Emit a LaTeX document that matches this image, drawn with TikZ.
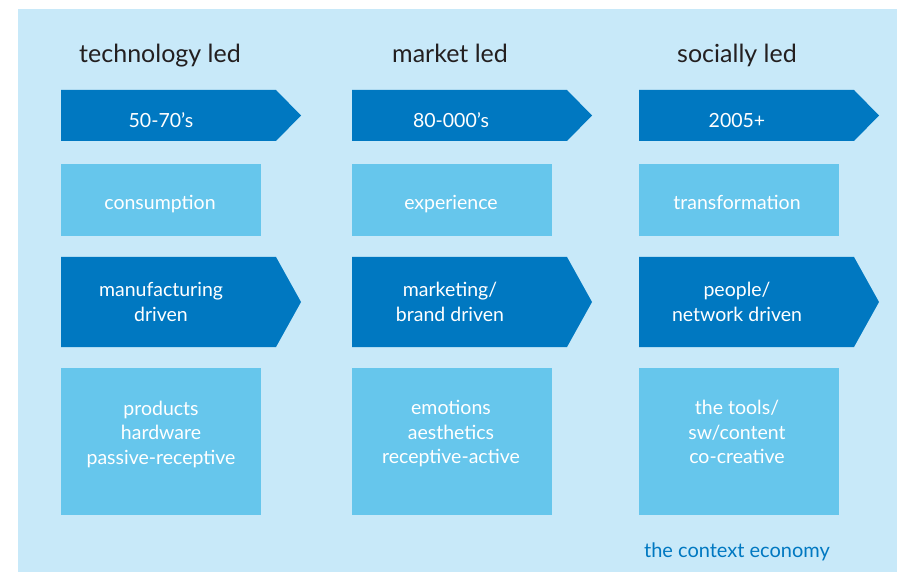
\documentclass[tikz,border=0pt]{standalone}
\usepackage{fontspec}
\setmainfont{Lato}
\definecolor{bgblue}{HTML}{C8E9F9}
\definecolor{darkblue}{HTML}{0078C1}
\definecolor{lightblue}{HTML}{66C6EC}
\definecolor{titlegray}{HTML}{231F20}
\tikzset{
  coltitle/.style={anchor=base,text=titlegray,font=\fontsize{25}{29}\selectfont},
  boxtext/.style={text=white,align=center,font=\fontsize{19.5}{24.5}\selectfont},
}
\begin{document}
\begin{tikzpicture}[x=1pt,y=-1pt]
\useasboundingbox (0,0) rectangle (897,572);
\fill[bgblue] (18,9) rectangle (897,572);
\begin{scope}[xshift=61pt]
\node[coltitle] (techtitle) at (99,63) {technology led};
\fill[darkblue] (0,90) -- (215,90) -- (240,115.5) -- (215,141) -- (0,141) -- cycle;
\node[boxtext,anchor=base] (techyears) at (100,128) {50-70’s};
\fill[lightblue] (0,164) rectangle (200,236);
\node[boxtext,anchor=base] (techcore) at (99,210) {consumption};
\fill[darkblue] (0,257) -- (215,257) -- (240,302) -- (215,347) -- (0,347) -- cycle;
\node[boxtext] (techdrive) at (100,302) {manufacturing\\driven};
\fill[lightblue] (0,368) rectangle (200,515);
\node[boxtext] (techitems) at (100,434) {products\\hardware\\passive-receptive};
\end{scope}
\begin{scope}[xshift=352pt]
\node[coltitle] (markettitle) at (98,63) {market led};
\fill[darkblue] (0,90) -- (215,90) -- (240,115.5) -- (215,141) -- (0,141) -- cycle;
\node[boxtext,anchor=base] (marketyears) at (99,128) {80-000’s};
\fill[lightblue] (0,164) rectangle (200,236);
\node[boxtext,anchor=base] (marketcore) at (99,210) {experience};
\fill[darkblue] (0,257) -- (215,257) -- (240,302) -- (215,347) -- (0,347) -- cycle;
\node[boxtext] (marketdrive) at (98,302) {marketing/\\brand driven};
\fill[lightblue] (0,368) rectangle (200,515);
\node[boxtext] (marketitems) at (99,434) {emotions\\aesthetics\\receptive-active};
\end{scope}
\begin{scope}[xshift=639pt]
\node[coltitle] (socialtitle) at (98,63) {socially led};
\fill[darkblue] (0,90) -- (215,90) -- (240,115.5) -- (215,141) -- (0,141) -- cycle;
\node[boxtext,anchor=base] (socialyears) at (98,128) {2005+};
\fill[lightblue] (0,164) rectangle (200,236);
\node[boxtext,anchor=base] (socialcore) at (98,210) {transformation};
\fill[darkblue] (0,257) -- (215,257) -- (240,302) -- (215,347) -- (0,347) -- cycle;
\node[boxtext] (socialdrive) at (98,302) {people/\\network driven};
\fill[lightblue] (0,368) rectangle (200,515);
\node[boxtext] (socialitems) at (98,432) {the tools/\\sw/content\\co-creative};
\node[boxtext,text=darkblue,anchor=base,font=\fontsize{20}{24}\selectfont] (economy) at (98,557) {the context economy};
\end{scope}
\end{tikzpicture}
\end{document}
